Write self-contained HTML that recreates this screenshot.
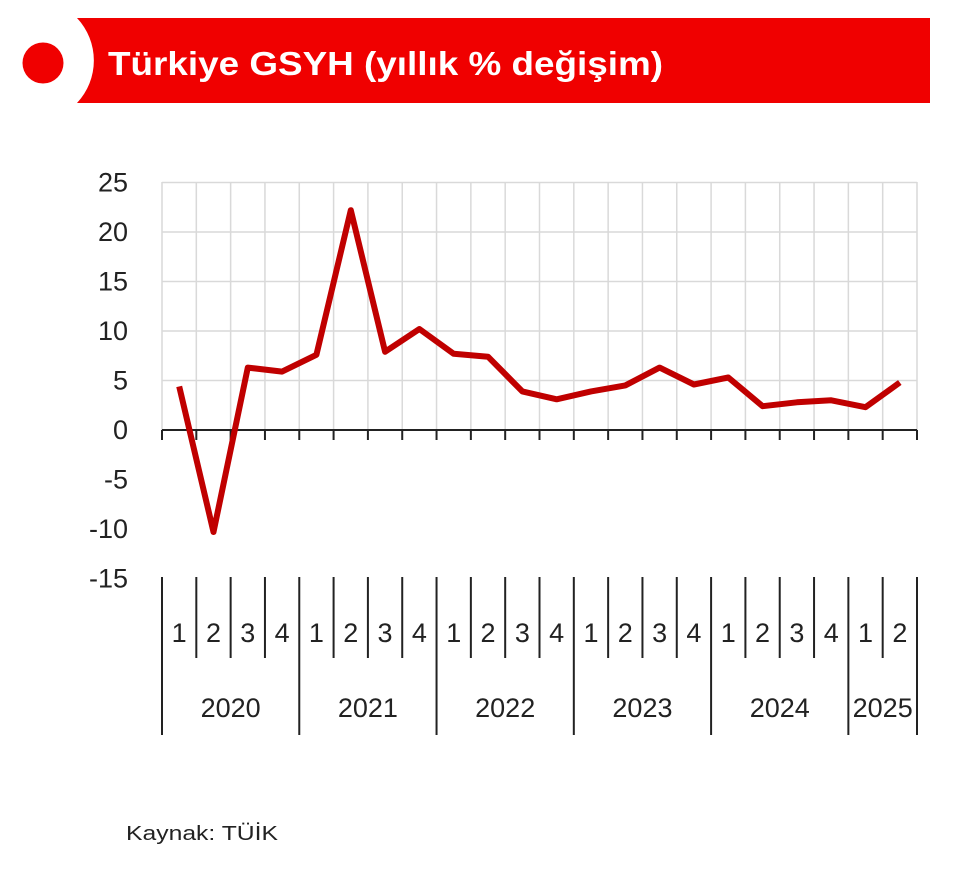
<!DOCTYPE html>
<html><head><meta charset="utf-8"><style>
body{margin:0;background:#fff;width:960px;height:879px;overflow:hidden}
svg{display:block}
</style></head><body>
<svg width="960" height="879" viewBox="0 0 960 879" xmlns="http://www.w3.org/2000/svg" font-family="Liberation Sans, sans-serif">
<rect x="0" y="0" width="960" height="879" fill="#fff"/>
<path d="M77 18 H930 V103 H77 A62 62 0 0 0 77 18 Z" fill="#f00000"/>
<circle cx="43" cy="63" r="20.5" fill="#f00000"/>
<text x="108" y="75" fill="#fff" font-size="33" font-weight="bold" textLength="555" lengthAdjust="spacingAndGlyphs">Türkiye GSYH (yıllık % değişim)</text>
<g id="grid" stroke="#d9d9d9" stroke-width="1.5"></g>
<g id="axes" stroke="#222" stroke-width="2"></g>
<g id="ylab" font-size="27" fill="#222" text-anchor="end"></g>
<g id="xlab" font-size="27" fill="#222" text-anchor="middle"></g>
<polyline id="line" fill="none" stroke="#c00000" stroke-width="6" stroke-linejoin="round"/>
<text x="126" y="840" font-size="20" fill="#222" textLength="152" lengthAdjust="spacingAndGlyphs">Kaynak: TÜİK</text>
</svg>
<script>
var L=162,R=917,step=(R-L)/22,y0=430,s=9.9;
var ns="http://www.w3.org/2000/svg";
function el(p,t,a,txt){var e=document.createElementNS(ns,t);for(var k in a)e.setAttribute(k,a[k]);if(txt!=null)e.textContent=txt;document.getElementById(p).appendChild(e);return e;}
for(var v=-15;v<=25;v+=5){var y=y0-v*s;if(v>0)el("grid","line",{x1:L,x2:R,y1:y,y2:y});el("ylab","text",{x:128,y:y+9},String(v));}
for(var i=0;i<=22;i++){var x=L+i*step;el("grid","line",{x1:x,x2:x,y1:182,y2:430});
 el("axes","line",{x1:x,x2:x,y1:430,y2:440});
 var yr=(i%4==0||i==22);el("axes","line",{x1:x,x2:x,y1:577,y2:yr?735:658});}
el("axes","line",{x1:L,x2:R,y1:430,y2:430});
var vals=[4.4,-10.3,6.3,5.9,7.6,22.2,7.9,10.2,7.7,7.4,3.9,3.1,3.9,4.5,6.3,4.6,5.3,2.4,2.8,3.0,2.3,4.8];
var pts=[];for(var i=0;i<22;i++){var x=L+(i+0.5)*step;pts.push(x.toFixed(1)+","+(y0-vals[i]*s).toFixed(1));
 el("xlab","text",{x:x,y:642},String(i%4+1));}
document.getElementById("line").setAttribute("points",pts.join(" "));
var yrs=["2020","2021","2022","2023","2024","2025"];
for(var j=0;j<6;j++){var x=j<5?L+(j*4+2)*step:L+21*step;el("xlab","text",{x:x,y:717},yrs[j]);}
</script>
</body></html>
